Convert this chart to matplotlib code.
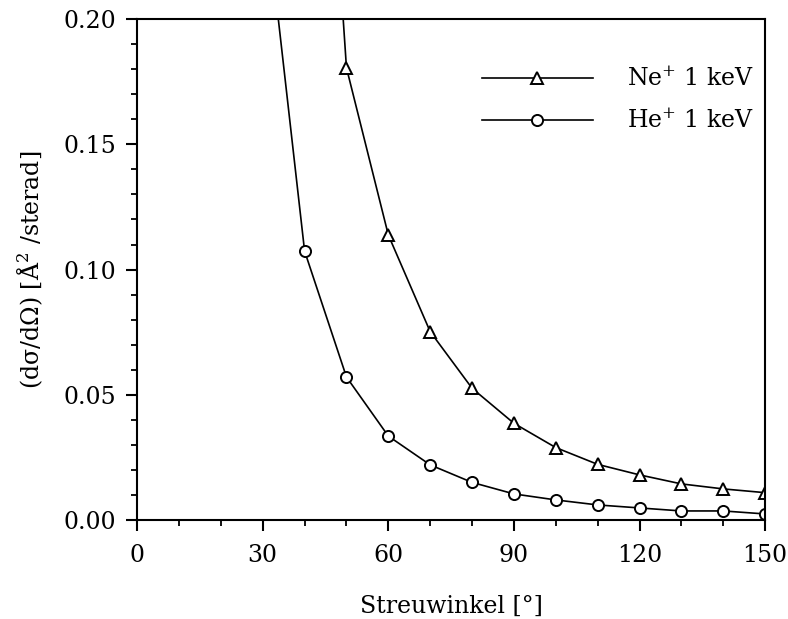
import matplotlib
matplotlib.use('Agg')
import matplotlib.pyplot as plt
from matplotlib.ticker import MultipleLocator, FormatStrFormatter

plt.rcParams['font.family'] = 'DejaVu Serif'
plt.rcParams['mathtext.fontset'] = 'dejavuserif'

# scattering angle [deg] and differential cross section [A^2/sterad]
angle_ne = [40, 50, 60, 70, 80, 90, 100, 110, 120, 130, 140, 150]
sigma_ne = [0.43, 0.1806, 0.1138, 0.0752, 0.0526, 0.0386, 0.0289,
            0.0222, 0.0180, 0.0144, 0.0124, 0.0109]

angle_he = [30, 40, 50, 60, 70, 80, 90, 100, 110, 120, 130, 140, 150]
sigma_he = [0.255, 0.1074, 0.0571, 0.0335, 0.0220, 0.0150, 0.0104,
            0.0080, 0.0060, 0.0048, 0.0036, 0.0036, 0.0024]

fig = plt.figure(figsize=(7.88, 6.19), dpi=100)
ax = fig.add_axes([0.174, 0.160, 0.797, 0.809])

ax.plot(angle_ne, sigma_ne, color='black', lw=1.2, marker='^', ms=8.5,
        mfc='white', mec='black', mew=1.4, label='Ne$^{+}$ 1 keV')
ax.plot(angle_he, sigma_he, color='black', lw=1.2, marker='o', ms=8,
        mfc='white', mec='black', mew=1.4, label='He$^{+}$ 1 keV')

ax.set_xlim(0, 150)
ax.set_ylim(0, 0.20)
ax.xaxis.set_major_locator(MultipleLocator(30))
ax.xaxis.set_minor_locator(MultipleLocator(10))
ax.yaxis.set_major_locator(MultipleLocator(0.05))
ax.yaxis.set_minor_locator(MultipleLocator(0.01))
ax.yaxis.set_major_formatter(FormatStrFormatter('%.2f'))

ax.tick_params(which='major', direction='out', length=8, width=1.5,
               labelsize=17, pad=7)
ax.tick_params(axis='x', which='major', pad=9)
ax.tick_params(which='minor', direction='out', length=4, width=1.3)
for s in ax.spines.values():
    s.set_linewidth(1.5)

ax.set_xlabel('Streuwinkel [°]', fontsize=17, labelpad=20)
ax.set_ylabel('(dσ/dΩ) [Å$^{2}$ /sterad]', fontsize=17, labelpad=13)

ax.legend(loc='upper right', bbox_to_anchor=(1.016, 0.947), frameon=False,
          fontsize=17, handlelength=4.7, handletextpad=1.45, labelspacing=0.75)

fig.savefig('out.png', dpi=100)
